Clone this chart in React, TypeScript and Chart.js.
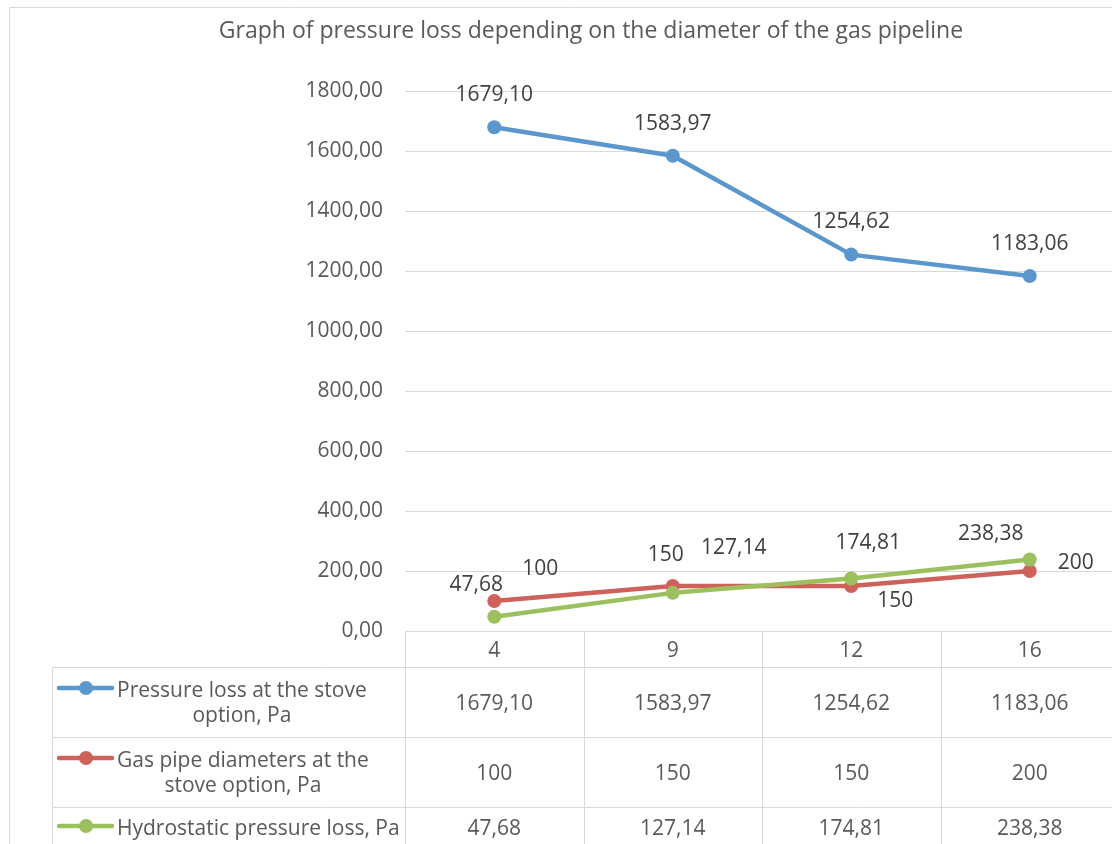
import React, { useEffect, useRef } from "react";
import { Chart, registerables } from "chart.js";

Chart.register(...registerables);

const chartTitle = "Graph of pressure loss depending on the diameter of the gas pipeline";
const categories = ["4", "9", "12", "16"];
const pressureLoss = [1679.1, 1583.97, 1254.62, 1183.06];
const pipeDiameters = [100, 150, 150, 200];
const hydrostaticLoss = [47.68, 127.14, 174.81, 238.38];
const seriesNames = [
  ["Pressure loss at the stove", "option, Pa"],
  ["Gas pipe diameters at the", "stove option, Pa"],
  ["Hydrostatic pressure loss, Pa"],
];
const seriesDecimals = [2, 0, 2];
const seriesColors = ["#5B96CD", "#CF615B", "#9DC05F"];
const yMin = 0;
const yMax = 1800;
const yStep = 200;

// label offsets (dx, dy) relative to each point, mimicking Excel's placement
const labelOffsets = [
  [[0, -32], [0, -32], [0, -33], [0, -32]],
  [[46, -32], [-7, -31], [44, 15], [46, -8]],
  [[-18, -32], [61, -45], [17, -36], [-39, -25]],
];

const FONT = "'Open Sans', 'Noto Sans', sans-serif";
const TEXT = "#595959";
const LABEL = "#404040";
const GRID = "#D9D9D9";

const fmt = (v: number, d: number) => v.toFixed(d).replace(".", ",");

const decorPlugin = {
  id: "decor",
  beforeDraw(chart: any) {
    const ctx = chart.ctx;
    ctx.save();
    ctx.fillStyle = "#ffffff";
    ctx.fillRect(0, 0, chart.width, chart.height);
    ctx.strokeStyle = GRID;
    ctx.lineWidth = 1;
    ctx.beginPath();
    ctx.moveTo(9.5, chart.height);
    ctx.lineTo(9.5, 7.5);
    ctx.lineTo(chart.width, 7.5);
    ctx.stroke();
    // title
    ctx.fillStyle = TEXT;
    ctx.font = `23px ${FONT}`;
    ctx.textAlign = "center";
    ctx.textBaseline = "middle";
    ctx.fillText(chartTitle, 591, 31);
    ctx.restore();
  },
  afterDraw(chart: any) {
    const ctx = chart.ctx;
    const area = chart.chartArea;
    const xs = chart.scales.x;
    const n = categories.length;
    const colW = (area.right - area.left) / n;
    const tableLeft = 52;
    const catRowH = 36;
    const rowHs = [70, 70, 70];
    const rowTops: number[] = [];
    let y = area.bottom + catRowH;
    for (const h of rowHs) {
      rowTops.push(y);
      y += h;
    }
    const tableBottom = y;
    ctx.save();
    ctx.strokeStyle = GRID;
    ctx.lineWidth = 1;
    ctx.beginPath();
    for (const t of rowTops) {
      ctx.moveTo(tableLeft, Math.round(t) + 0.5);
      ctx.lineTo(chart.width, Math.round(t) + 0.5);
    }
    ctx.moveTo(tableLeft + 0.5, rowTops[0]);
    ctx.lineTo(tableLeft + 0.5, tableBottom);
    for (let i = 0; i <= n; i++) {
      const x = Math.round(area.left + i * colW) + 0.5;
      ctx.moveTo(x, area.bottom);
      ctx.lineTo(x, tableBottom);
    }
    ctx.stroke();

    ctx.textAlign = "center";
    ctx.textBaseline = "middle";
    ctx.font = `21px ${FONT}`;
    ctx.fillStyle = TEXT;
    categories.forEach((c, i) => {
      ctx.fillText(c, xs.getPixelForValue(i), area.bottom + catRowH / 2 + 2);
    });

    const seriesData = [pressureLoss, pipeDiameters, hydrostaticLoss];
    seriesData.forEach((arr, s) => {
      const top = rowTops[s];
      const lines = seriesNames[s];
      const lh = 25;
      const firstY = lines.length > 1 ? top + 24 : top + 22;
      const valY = lines.length > 1 ? top + 37 : top + 22;
      ctx.font = `21px ${FONT}`;
      ctx.fillStyle = TEXT;
      arr.forEach((v, i) => {
        ctx.fillText(fmt(v, seriesDecimals[s]), xs.getPixelForValue(i), valY);
      });
      // legend key
      const iy = firstY - 3;
      ctx.strokeStyle = seriesColors[s];
      ctx.lineWidth = 4.5;
      ctx.lineCap = "round";
      ctx.beginPath();
      ctx.moveTo(59, iy);
      ctx.lineTo(112, iy);
      ctx.stroke();
      ctx.fillStyle = seriesColors[s];
      ctx.beginPath();
      ctx.arc(86, iy, 7, 0, Math.PI * 2);
      ctx.fill();
      // legend text
      ctx.fillStyle = TEXT;
      const maxW = Math.max(...lines.map((l) => ctx.measureText(l).width));
      const cx = 117 + maxW / 2;
      lines.forEach((l, k) => ctx.fillText(l, cx, firstY + k * lh));
    });
    ctx.restore();
  },
  afterDatasetsDraw(chart: any) {
    const ctx = chart.ctx;
    ctx.save();
    ctx.font = `21px ${FONT}`;
    ctx.fillStyle = LABEL;
    ctx.textAlign = "center";
    ctx.textBaseline = "middle";
    chart.data.datasets.forEach((ds: any, s: number) => {
      const meta = chart.getDatasetMeta(s);
      meta.data.forEach((el: any, i: number) => {
        const [dx, dy] = labelOffsets[s][i];
        ctx.fillText(fmt(ds.data[i], seriesDecimals[s]), el.x + dx, el.y + dy);
      });
    });
    ctx.restore();
  },
};

export default function App() {
  const ref = useRef<HTMLCanvasElement | null>(null);
  useEffect(() => {
    if (!ref.current) return;
    const mk = (label: string, data: number[], color: string, order: number) => ({
      label,
      data,
      borderColor: color,
      backgroundColor: color,
      borderWidth: 4.5,
      pointRadius: 7,
      pointBorderWidth: 0,
      pointBackgroundColor: color,
      tension: 0,
      order,
      borderCapStyle: "round" as const,
      borderJoinStyle: "round" as const,
    });
    const chart = new Chart(ref.current, {
      type: "line",
      data: {
        labels: categories,
        datasets: [
          mk(seriesNames[0].join(" "), pressureLoss, seriesColors[0], 2),
          mk(seriesNames[1].join(" "), pipeDiameters, seriesColors[1], 1),
          mk(seriesNames[2].join(" "), hydrostaticLoss, seriesColors[2], 0),
        ],
      },
      options: {
        responsive: false,
        animation: false,
        devicePixelRatio: 1,
        layout: { padding: { top: 91, bottom: 213, right: 11, left: 0 } },
        plugins: { legend: { display: false }, title: { display: false }, tooltip: { enabled: false } },
        scales: {
          x: { display: false, offset: true },
          y: {
            min: yMin,
            max: yMax,
            ticks: {
              stepSize: yStep,
              padding: 22,
              color: TEXT,
              font: { family: FONT, size: 21 },
              callback: (v: any) => fmt(Number(v), 2),
            },
            grid: { color: GRID, lineWidth: 1, drawTicks: false },
            border: { display: false },
            afterFit: (s: any) => {
              s.width = 405;
            },
          },
        },
      },
      plugins: [decorPlugin],
    });
    return () => chart.destroy();
  }, []);
  return (
    <div style={{ position: "absolute", left: 0, top: 0, width: 1112, height: 844, overflow: "hidden", background: "#fff" }}>
      <canvas ref={ref} width={1130} height={844} style={{ display: "block" }} />
    </div>
  );
}
